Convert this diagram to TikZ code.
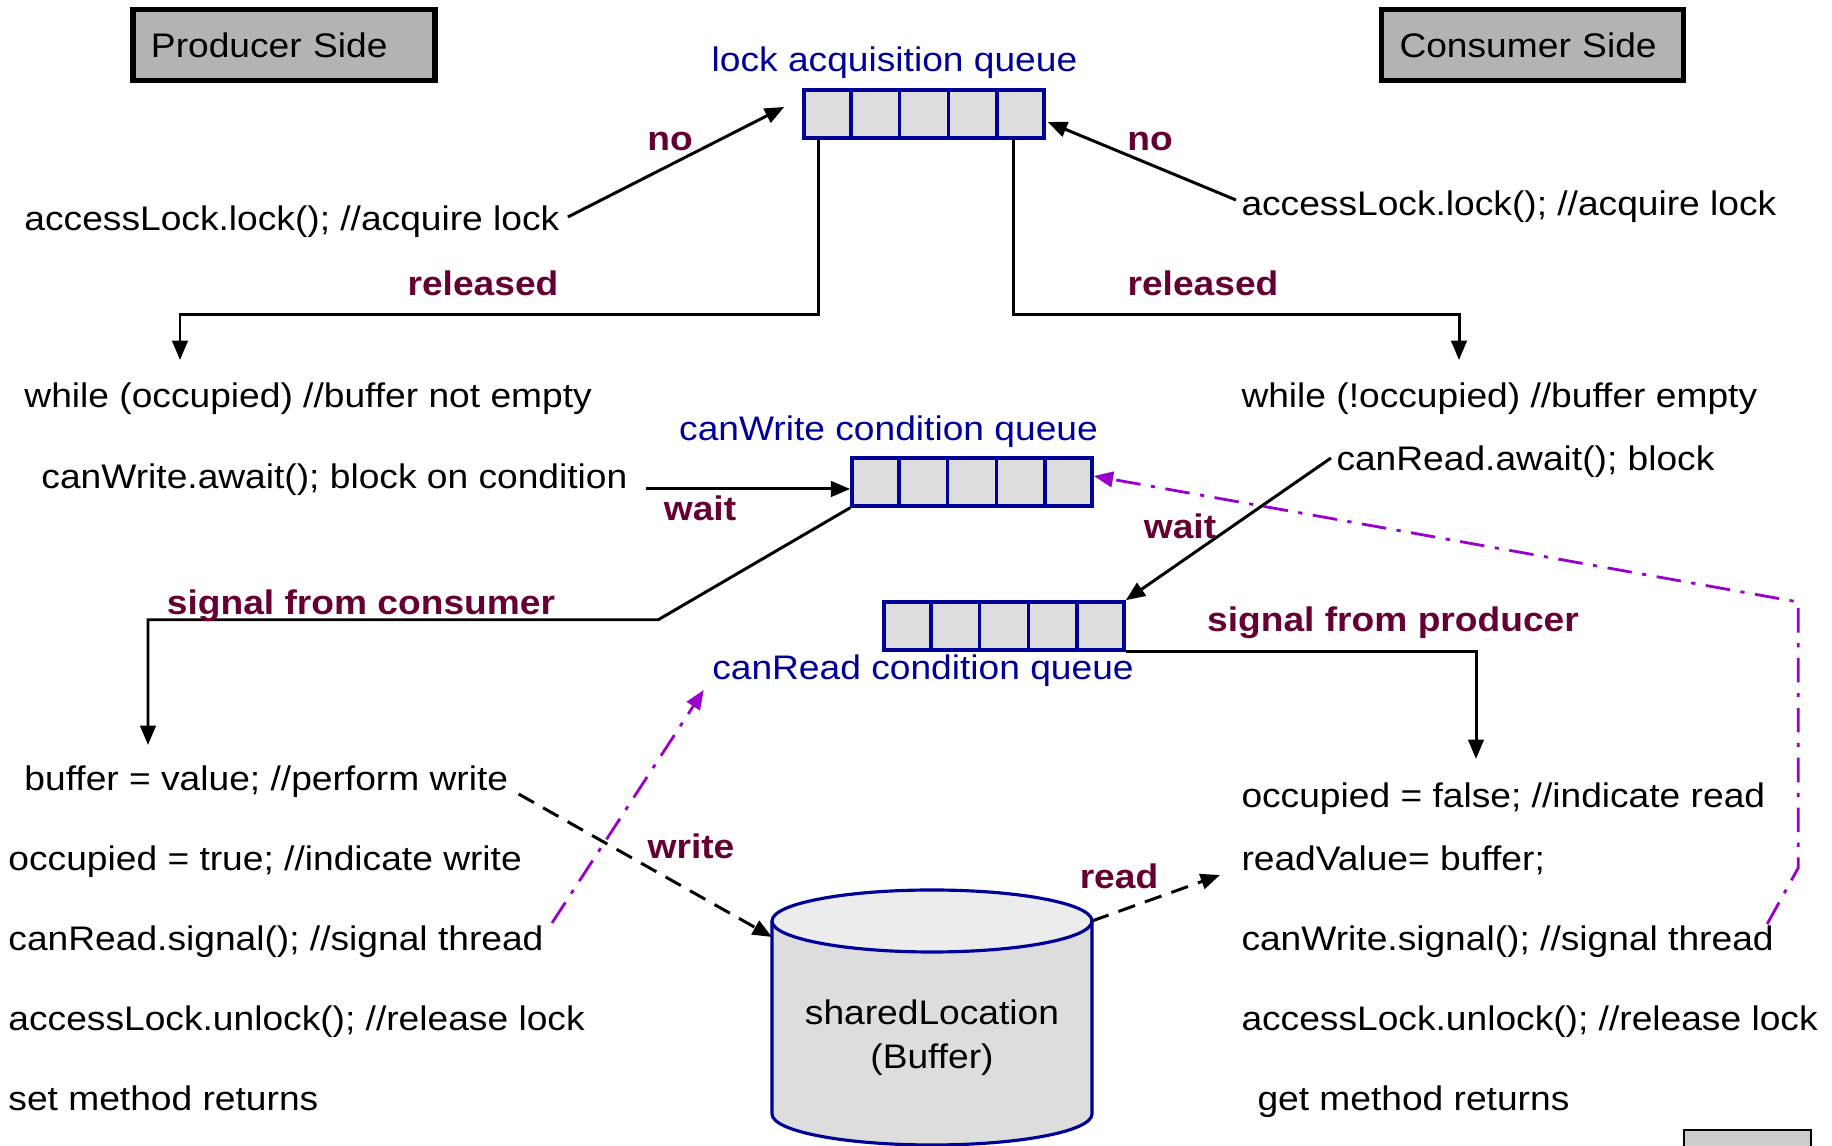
\documentclass[tikz,border=0pt]{standalone}
\usepackage{fontspec}
\setmainfont{Liberation Sans}[FakeStretch=1.09]
\usetikzlibrary{arrows.meta,calc}

\definecolor{qblue}{RGB}{0,0,153}
\definecolor{qgray}{RGB}{221,221,221}
\definecolor{toplight}{RGB}{236,236,236}
\definecolor{sidegray}{RGB}{179,179,179}
\definecolor{lblred}{RGB}{102,0,51}
\definecolor{sigpurple}{RGB}{153,0,204}
\definecolor{cornergray}{RGB}{204,204,204}
\newcommand{\codefont}{\fontsize{9.7}{12.5}\selectfont}

\begin{document}
\begin{tikzpicture}[>={Triangle[length=5.5pt,width=4.4pt]}, line width=0.85pt,
  txt/.style={font=\codefont, inner sep=0pt, anchor=west, text height=0.73em, text depth=0.21em},
  lbl/.style={font=\codefont\bfseries, text=lblred, inner sep=0pt},
  qlbl/.style={font=\codefont, text=qblue, inner sep=0pt, text height=0.73em, text depth=0.21em},
  queue/.style={draw=qblue, fill=qgray, line width=1pt, minimum width=2.4cm, minimum height=0.48cm, inner sep=0pt},
  side/.style={draw, line width=1.5pt, fill=sidegray, font=\codefont, minimum height=0.71cm,
    inner xsep=0.18cm, text width=2.66cm, align=left},
  data/.style={->, dash pattern=on 5pt off 3pt},
  sig/.style={->, draw=sigpurple, dash pattern=on 7pt off 3pt on 1.2pt off 3pt, line width=0.8pt}]

  \useasboundingbox (0,0) rectangle (18.32,11.46);

  % sides
  \node[side] (prod) at (2.84,11.01) {Producer Side};
  \node[side] (cons) at (15.325,11.01) {Consumer Side};

  % queues
  \node[queue] (lockq) at (9.24,10.32) {};
  \node[queue] (writeq) at (9.72,6.64) {};
  \node[queue] (readq) at (10.04,5.20) {};
  \foreach \q in {lockq,writeq,readq}
    \foreach \i in {1,...,4}
      \draw[qblue, line width=1pt] ($(\q.south west)!{\i/5}!(\q.south east)$)
        -- ($(\q.north west)!{\i/5}!(\q.north east)$);

  \node[qlbl] (locklbl) at (8.945,10.84) {lock acquisition queue};
  \node[qlbl] (wrlbl) at (8.885,7.15) {canWrite condition queue};
  \node[qlbl] (rdlbl) at (9.23,4.76) {canRead condition queue};

  % producer code
  \node[txt] (pLock) at (0.23,9.25) {accessLock.lock(); //acquire lock};
  \node[txt] (pWhile) at (0.23,7.48) {while (occupied) //buffer not empty};
  \node[txt] (pAwait) at (0.40,6.67) {canWrite.await(); block on condition};
  \node[txt] (pWrite) at (0.23,3.65) {buffer = value; //perform write};
  \node[txt] (pOcc) at (0.07,2.85) {occupied = true; //indicate write};
  \node[txt] (pSignal) at (0.07,2.05) {canRead.signal(); //signal thread};
  \node[txt] (pUnlock) at (0.07,1.25) {accessLock.unlock(); //release lock};
  \node[txt] (pRet) at (0.07,0.45) {set method returns};

  % consumer code
  \node[txt] (cLock) at (12.40,9.40) {accessLock.lock(); //acquire lock};
  \node[txt] (cWhile) at (12.40,7.48) {while (!occupied) //buffer empty};
  \node[txt] (cAwait) at (13.35,6.85) {canRead.await(); block};
  \node[txt] (cOcc) at (12.40,3.48) {occupied = false; //indicate read};
  \node[txt] (cRead) at (12.40,2.85) {readValue= buffer;};
  \node[txt] (cSignal) at (12.40,2.05) {canWrite.signal(); //signal thread};
  \node[txt] (cUnlock) at (12.40,1.25) {accessLock.unlock(); //release lock};
  \node[txt] (cRet) at (12.56,0.45) {get method returns};

  % shared buffer
  \coordinate (bufTL) at (7.72,2.25);
  \coordinate (bufTR) at (10.92,2.25);
  \fill[qgray] (bufTL) -- (7.72,0.32) arc[start angle=180, end angle=360, x radius=1.6cm, y radius=0.31cm]
    -- (bufTR) -- cycle;
  \filldraw[fill=toplight, draw=qblue, line width=0.9pt] (9.32,2.25) ellipse [x radius=1.6cm, y radius=0.31cm];
  \draw[qblue, line width=0.9pt] (bufTL) -- (7.72,0.32)
    arc[start angle=180, end angle=360, x radius=1.6cm, y radius=0.31cm] -- (bufTR);
  \node[font=\codefont, align=center, inner sep=0pt] (buf) at (9.32,1.08) {sharedLocation\\(Buffer)};

  % lock acquisition
  \draw[->] ([xshift=0.07cm,yshift=0.04cm]pLock.east) -- ([xshift=-0.18cm,yshift=0.07cm]lockq.west);
  \draw[->] ([xshift=-0.04cm,yshift=0.06cm]cLock.west) -- ([xshift=0.02cm,yshift=-0.08cm]lockq.east);
  \node[lbl] (noL) at (6.70,10.04) {no};
  \node[lbl] (noR) at (11.50,10.04) {no};

  \coordinate (relLend) at (1.80,7.86);
  \coordinate (relRend) at (14.59,7.86);
  \draw[->] ([xshift=0.16cm]lockq.south west) -- ++(0,-1.75) -| (relLend);
  \draw[->] ([xshift=-0.32cm]lockq.south east) -- ++(0,-1.75) -| (relRend);
  \node[lbl] (relL) at (4.83,8.63) {released};
  \node[lbl] (relR) at (12.03,8.63) {released};

  % waiting
  \draw[->] ([xshift=0.17cm,yshift=-0.10cm]pAwait.east) -- ([yshift=-0.07cm]writeq.west);
  \draw[->] ([xshift=-0.04cm,yshift=0.03cm]cAwait.west) -- (readq.north east);
  \node[lbl] (waitL) at (7.00,6.38) {wait};
  \node[lbl] (waitR) at (11.80,6.20) {wait};

  % signals
  \coordinate (sigCend) at (1.48,4.01);
  \coordinate (sigPend) at (14.76,3.87);
  \draw[->] (writeq.south west) -- ++(-1.92,-1.12) -| (sigCend);
  \draw[->] (readq.south east) -| (sigPend);
  \node[lbl] (sigC) at (3.61,5.40) {signal from consumer};
  \node[lbl] (sigP) at (13.93,5.23) {signal from producer};

  % buffer access
  \draw[data] ([xshift=0.09cm,yshift=-0.13cm]pWrite.east) -- ([yshift=-0.16cm]bufTL);
  \draw[data] (bufTR) -- ([xshift=-0.20cm,yshift=-0.14cm]cRead.west);
  \node[lbl] (wr) at (6.91,3.00) {write};
  \node[lbl] (rd) at (11.19,2.70) {read};

  % signal calls
  \draw[sig] ([xshift=0.07cm,yshift=0.18cm]pSignal.east) -- ([xshift=-0.07cm,yshift=-0.02cm]rdlbl.south west);
  \draw[sig] ([xshift=-0.08cm,yshift=0.17cm]cSignal.east) -- ++(0.31,0.56) -- ++(0,2.66)
    -- ([yshift=0.06cm]writeq.east);

  % corner box
  \filldraw[fill=cornergray, draw=black, line width=0.6pt] (16.84,-0.1) rectangle (18.11,0.16);

\end{tikzpicture}
\end{document}
